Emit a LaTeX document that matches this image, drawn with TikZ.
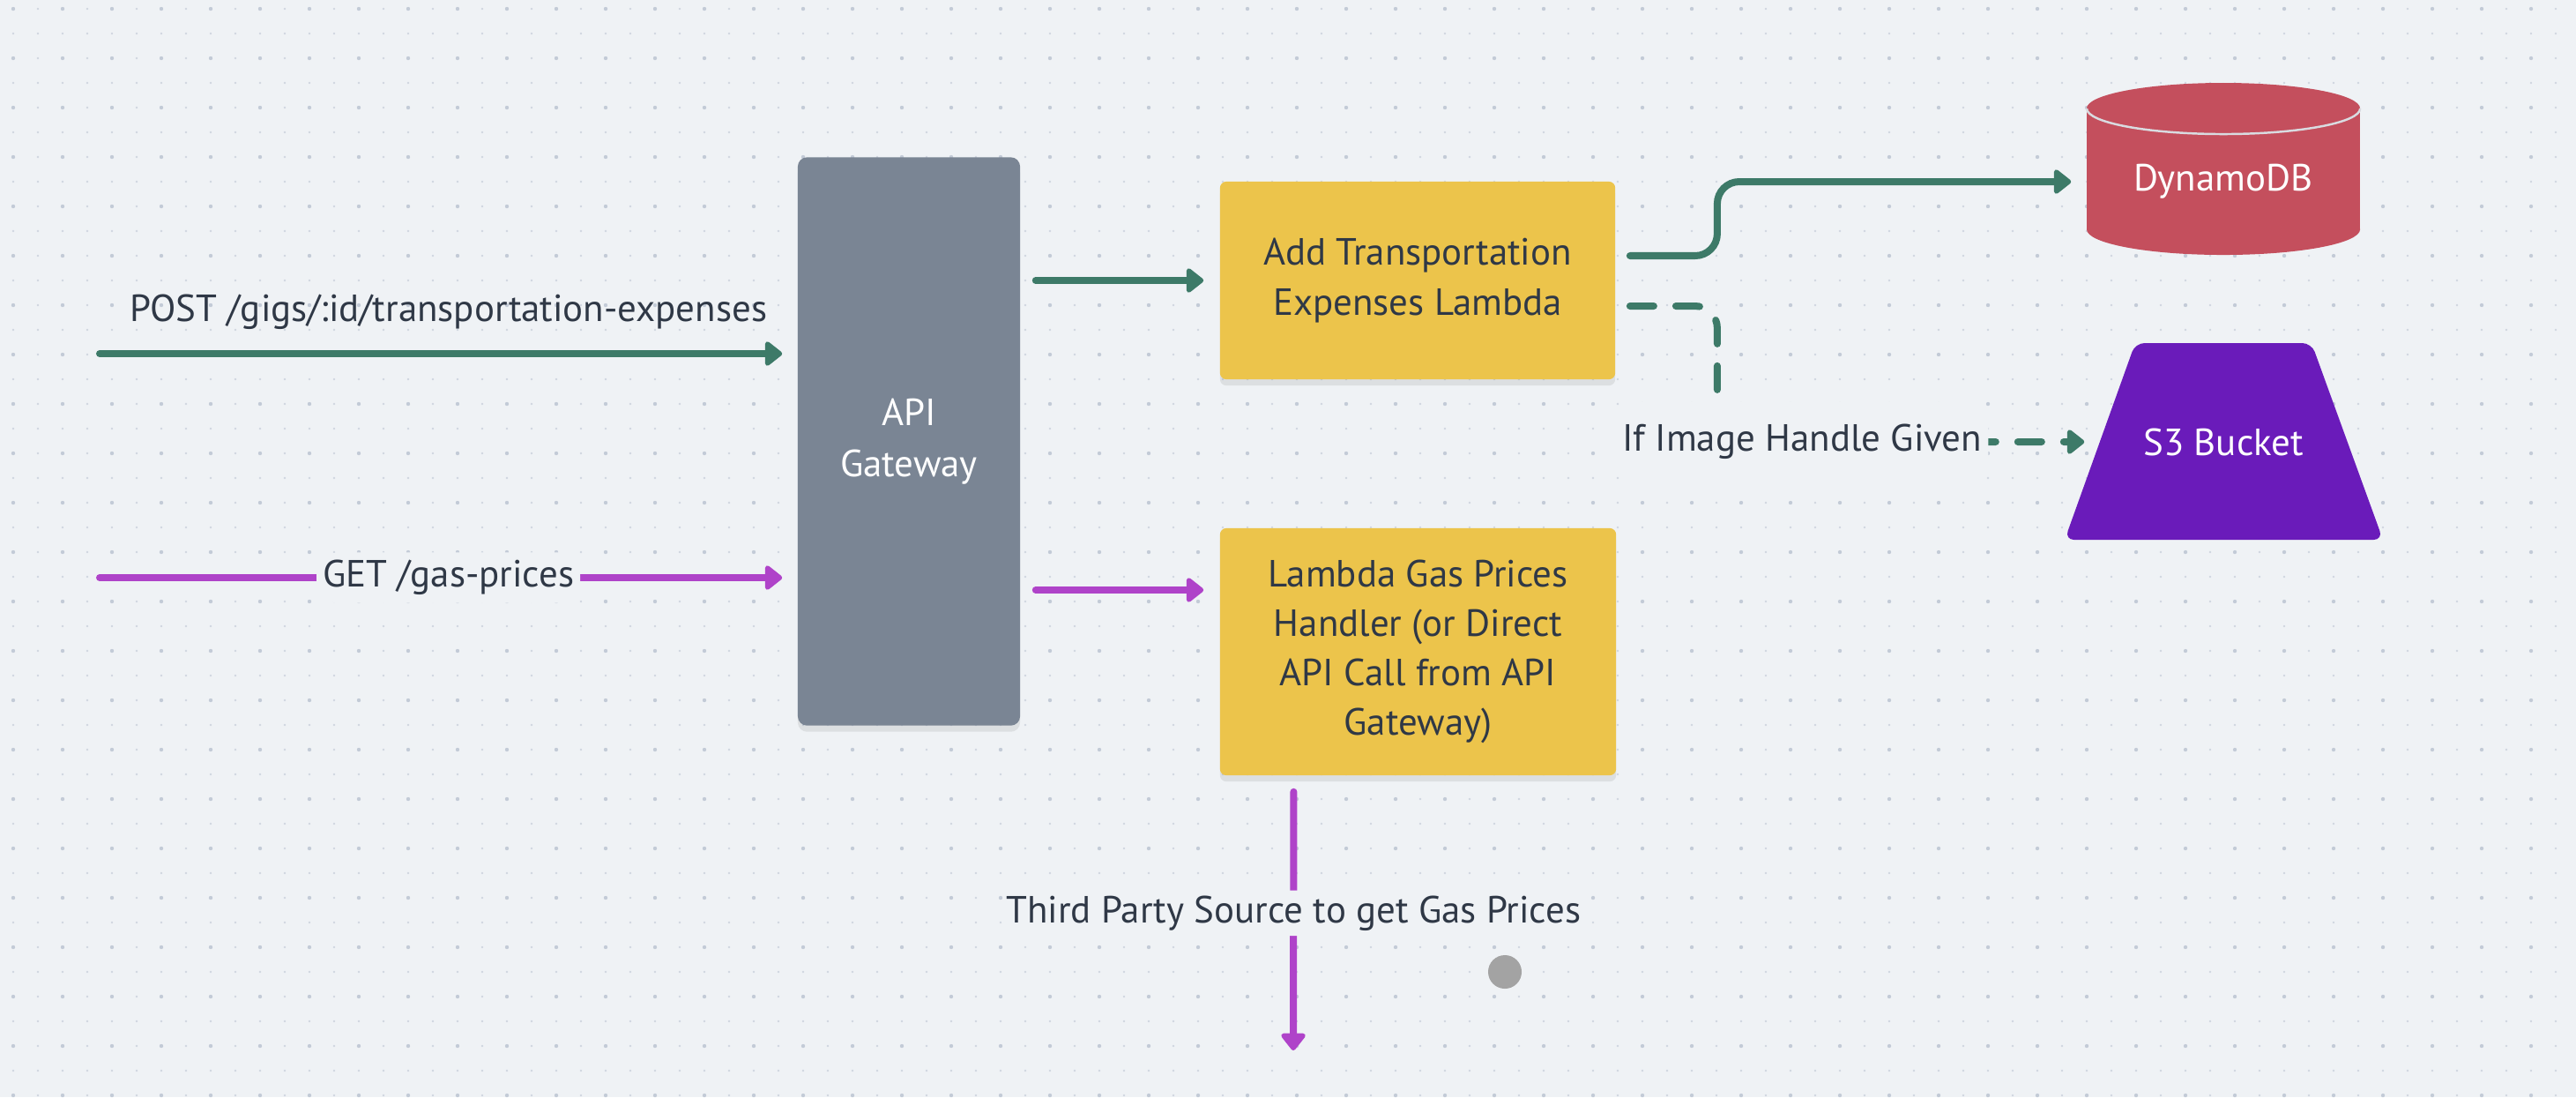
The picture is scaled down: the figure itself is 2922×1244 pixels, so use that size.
\documentclass[tikz,border=0pt]{standalone}
\usepackage{fontspec}
\setmainfont{PT Sans}
\usetikzlibrary{arrows.meta,shadows,calc}
\definecolor{bg}{HTML}{EFF2F5}
\definecolor{grn}{HTML}{3D7A68}
\definecolor{pur}{HTML}{AF43C9}
\definecolor{yel}{HTML}{ECC44B}
\definecolor{gwc}{HTML}{7A8594}
\definecolor{txt}{HTML}{2F3846}
\definecolor{ddbc}{HTML}{C44F5D}
\definecolor{s3c}{HTML}{6A1BBA}
\definecolor{greydot}{HTML}{A3A3A3}
\definecolor{gridsmall}{HTML}{D0D6DF}
\definecolor{gridbig}{HTML}{C3CBD7}
\definecolor{rimc}{HTML}{D9DBE0}
\tikzset{
  gline/.style={draw=grn, line width=2.28pt, line cap=round, rounded corners=0.25cm,
    -{Triangle[length=6pt,width=9pt,round]}},
  pline/.style={gline, draw=pur},
  gdash/.style={gline, dash pattern=on 0.27cm off 0.25cm},
  lbl/.style={text=txt, fill=bg, inner xsep=2pt, inner ysep=2.5pt},
  box/.style={fill=yel, rounded corners=2pt, text=txt, align=center,
    drop shadow={shadow xshift=0pt, shadow yshift=-2pt, opacity=0.08, fill=black}},
  gwbox/.style={fill=gwc, rounded corners=3pt, text=white, align=center,
    drop shadow={shadow xshift=0pt, shadow yshift=-2pt, opacity=0.08, fill=black}},
  whitelbl/.style={text=white, inner sep=0pt},
}
\begin{document}
\begin{tikzpicture}[x=0.01cm, y=-0.01cm, font=\fontsize{12.2}{16}\selectfont]
\useasboundingbox (0,0) rectangle (2922,1244);
\fill[bg] (0,0) rectangle (2922,1244);
% dot grid
\foreach \i in {0,...,104}{
  \foreach \j in {0,...,44}{
    \fill[gridsmall] (15+28*\i, 10+28*\j) circle[radius=0.014cm];
  }
}
\foreach \i in {0,2,...,104}{
  \foreach \j in {0,2,...,44}{
    \fill[gridbig] (15+28*\i, 10+28*\j) circle[radius=0.022cm];
  }
}

% API Gateway
\node[gwbox, minimum width=2.52cm, minimum height=6.44cm,
      font=\fontsize{12.2}{16.5}\selectfont] (gw) at (1031,500.5) {API\\Gateway};

% Lambdas
\node[box, minimum width=4.48cm, minimum height=2.24cm] (add) at (1608,318)
  {Add Transportation\\Expenses Lambda};
\node[box, minimum width=4.49cm, minimum height=2.8cm] (gas) at (1608.5,739)
  {Lambda Gas Prices\\Handler (or Direct\\API Call from API\\Gateway)};

% DynamoDB cylinder
\fill[ddbc] (2367,123) rectangle (2677,260);
\fill[ddbc] (2522,260) ellipse [x radius=1.55cm, y radius=0.29cm];
\fill[ddbc] (2522,123) ellipse [x radius=1.55cm, y radius=0.29cm];
\draw[rimc, line width=0.7pt] (2367,123) arc[start angle=180, end angle=360, x radius=1.55cm, y radius=0.29cm];
\node[whitelbl, minimum width=3.1cm, minimum height=1.66cm] (ddb) at (2522,206) {DynamoDB};

% S3 bucket trapezoid
\fill[s3c, rounded corners=3pt] (2342,612) -- (2422,389) -- (2622,389) -- (2703,612) -- cycle;
\node[whitelbl, minimum width=2.8cm] (s3) at (2522,501) {S3 Bucket};

% grey dot
\node[circle, fill=greydot, minimum size=0.38cm, inner sep=0pt] (pt) at (1707,1102) {};

% incoming requests
\coordinate (postin) at (113,401);
\coordinate (getin) at (113,655);
\draw[gline, shorten >=0.17cm] (postin) -- (postin -| gw.west)
  node[midway, yshift=0.47cm, text=txt] {POST /gigs/:id/transportation-expenses};
\draw[pline, shorten >=0.17cm] (getin) -- (getin -| gw.west)
  node[midway, lbl] {GET /gas-prices};

% gateway to lambdas
\draw[gline, shorten <=0.17cm, shorten >=0.18cm] (gw.east |- add.west) -- (add.west);
\coordinate (gasin) at ([yshift=0.7cm]gas.west);
\draw[pline, shorten <=0.17cm, shorten >=0.18cm] (gw.east |- gasin) -- (gasin);

% lambda to storage
\draw[gline, shorten <=0.16cm, shorten >=0.17cm] ([yshift=0.28cm]add.east) -- ++(1.15cm,0) |- (ddb.west);
\draw[gdash, shorten <=0.16cm, shorten >=0.17cm] ([yshift=-0.29cm]add.east) -- ++(1.15cm,0) |- (s3.west)
  node[pos=0.611, lbl, inner ysep=0.25cm] {If Image Handle Given};

% third party
\coordinate (tp) at (1467,1191);
\draw[pline, shorten <=0.18cm] ([xshift=-1.41cm]gas.south) -- (tp)
  node[midway, lbl, inner ysep=0.06cm] {Third Party Source to get Gas Prices};
\end{tikzpicture}
\end{document}
